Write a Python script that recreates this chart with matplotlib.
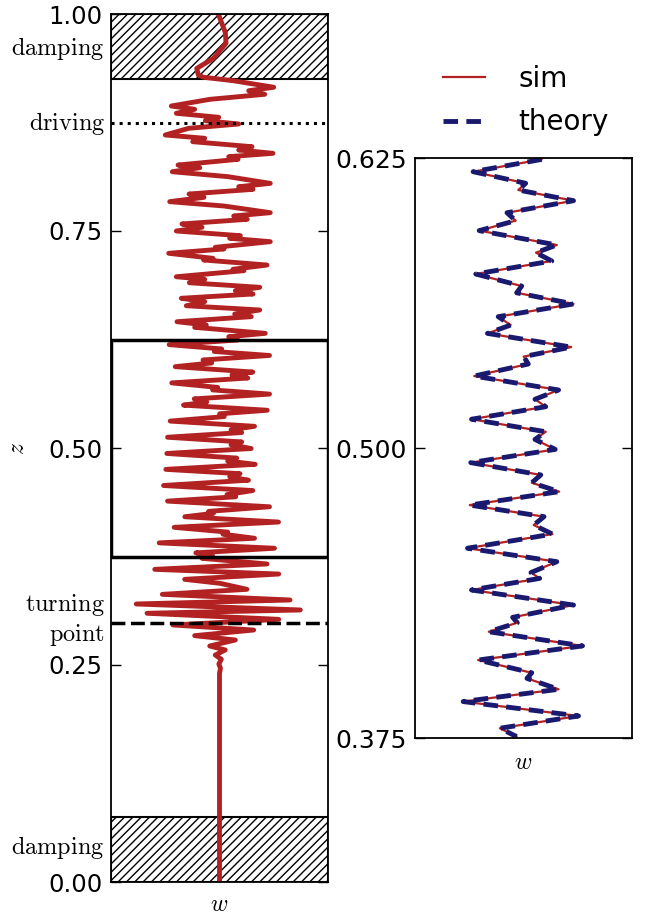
import matplotlib
matplotlib.use("Agg")
import matplotlib.pyplot as plt
from matplotlib.patches import Rectangle
from matplotlib.lines import Line2D

# profile of w(z) (extrema of the wave), top to bottom
z_damp_top = [1.000, 0.9785, 0.9662, 0.9489, 0.9373, 0.9297, 0.9271]
w_damp_top = [-0.011, 0.054, 0.060, -0.057, -0.210, -0.195, -0.149]

z_upper = [0.9232, 0.9156, 0.9116, 0.9075, 0.9017, 0.8940, 0.8902, 0.8856, 0.8810, 0.8771,
           0.8733, 0.8683, 0.8606, 0.8568, 0.8529, 0.8471, 0.8433, 0.8395, 0.8356, 0.8326,
           0.8260, 0.8229, 0.8183, 0.8126, 0.8049, 0.8010, 0.7980, 0.7926, 0.7888, 0.7838,
           0.7788, 0.7711, 0.7673, 0.7635, 0.7581, 0.7543, 0.7500, 0.7446, 0.7416, 0.7377,
           0.7312, 0.7293, 0.7243, 0.7185, 0.7166, 0.7108, 0.7059, 0.7043, 0.6973, 0.6943,
           0.6904, 0.6851, 0.6812, 0.6774, 0.6725, 0.6686, 0.6639, 0.6590, 0.6544, 0.6513,
           0.6455, 0.6417, 0.6390, 0.6321, 0.6282]
w_upper = [0.124, 0.500, 0.269, 0.417, -0.088, -0.444, -0.229, -0.398, -0.007, -0.131,
           0.177, -0.284, -0.500, -0.136, -0.247, 0.300, 0.177, 0.493, 0.085, 0.171,
           -0.382, -0.182, -0.435, 0.078, 0.468, 0.177, 0.309, -0.281, -0.143, -0.459,
           0.041, 0.468, 0.131, 0.256, -0.346, -0.161, -0.398, 0.192, 0.094, 0.468,
           -0.039, 0.041, -0.468, -0.060, -0.146, 0.438, 0.124, 0.226, -0.398, -0.136,
           -0.278, 0.371, 0.146, 0.309, -0.352, -0.136, -0.306, 0.371, 0.140, 0.293,
           -0.392, -0.122, -0.229, 0.422, 0.085]

# zoomed window 0.375 < z < 0.625 (sim and theory overlap here)
z_window = [0.6244, 0.6191, 0.6141, 0.6112, 0.6066, 0.6014, 0.5980, 0.5937, 0.5875, 0.5842,
            0.5806, 0.5750, 0.5698, 0.5669, 0.5621, 0.5566, 0.5530, 0.5494, 0.5435, 0.5394,
            0.5362, 0.5310, 0.5250, 0.5210, 0.5178, 0.5124, 0.5070, 0.5037, 0.4994, 0.4937,
            0.4884, 0.4850, 0.4812, 0.4754, 0.4704, 0.4668, 0.4629, 0.4568, 0.4510, 0.4463,
            0.4438, 0.4388, 0.4323, 0.4270, 0.4247, 0.4208, 0.4147, 0.4086, 0.4031, 0.4007,
            0.3960, 0.3907, 0.3845, 0.3792, 0.3756]
w_window = [0.168, -0.464, 0.020, -0.048, 0.461, -0.152, -0.072, -0.408, 0.307, 0.115,
            0.261, -0.440, -0.017, -0.063, 0.461, -0.233, -0.118, -0.332, 0.440, 0.002,
            0.044, -0.454, 0.323, 0.106, 0.205, -0.479, 0.205, 0.106, 0.292, -0.486,
            0.159, 0.076, 0.329, -0.495, 0.189, 0.094, 0.267, -0.516, 0.307, 0.069,
            0.149, -0.479, 0.461, -0.100, -0.057, -0.320, 0.544, -0.418, 0.076, 0.032,
            0.323, -0.556, 0.507, -0.218, -0.063]

z_lower = [0.3729, 0.3664, 0.3602, 0.3548, 0.3487, 0.3441, 0.3372, 0.3314, 0.3249, 0.3203,
           0.3134, 0.3096, 0.3026, 0.2961, 0.2903, 0.2838, 0.2788, 0.2719, 0.2673, 0.2615,
           0.2566, 0.2512, 0.2462, 0.2404, 0.0]
w_lower = [-0.161, 0.438, -0.597, 0.546, -0.321, 0.005, 0.253, -0.527, 0.650, -0.767,
           0.745, -0.668, 0.546, -0.429, 0.315, -0.229, 0.146, -0.090, 0.053, -0.039,
           0.017, -0.006, 0.009, 0.0, 0.0]

z_sim = z_damp_top + z_upper + z_window + z_lower
w_sim = w_damp_top + w_upper + w_window + w_lower

damp_top = (0.925, 1.0)
damp_bottom = (0.0, 0.075)
z_driving = 0.8744
z_turning = 0.2984
window = (0.375, 0.625)

plt.rcParams["mathtext.fontset"] = "cm"
sim_color = "#b22222"
theory_color = "#191970"

fig = plt.figure(figsize=(6.47, 9.16), dpi=100)
ax = fig.add_axes([111 / 647, 34 / 916, 217 / 647, 868 / 916])
ax2 = fig.add_axes([415 / 647, 178 / 916, 217 / 647, 580 / 916])

# --- left: full profile
for lo, hi in (damp_top, damp_bottom):
    ax.axhspan(lo, hi, facecolor="none", edgecolor="k", hatch="////", lw=1.5, zorder=1)
ax.plot(w_sim, z_sim, color=sim_color, lw=3.5, solid_joinstyle="round", zorder=2)
ax.axhline(z_driving, color="k", ls=":", lw=2.2, zorder=3)
ax.axhline(z_turning, color="k", lw=2.5, dashes=(4, 1.6), zorder=3)
box = Rectangle((0, window[0]), 1, window[1] - window[0], fill=False, lw=2.5,
                edgecolor="k", transform=ax.get_yaxis_transform(), zorder=4)
ax.add_patch(box)

ax.set_xlim(-1, 1)
ax.set_ylim(0, 1)
ax.set_xticks([])
ax.set_yticks([0, 0.25, 0.5, 0.75, 1.0])
ax.set_yticklabels(["0.00", "0.25", "0.50", "0.75", "1.00"])
ax.tick_params(axis="y", direction="in", length=7, width=1, right=True,
               labelsize=17.5, pad=6)
ax.set_ylabel(r"$z$", fontsize=17)
ax.yaxis.set_label_coords(-0.38, 0.5)
ax.set_xlabel(r"$w$", fontsize=17)
ax.xaxis.set_label_coords(0.5, -0.011)

tr = ax.get_yaxis_transform()
lab = dict(transform=tr, ha="right", va="center", fontsize=17.5)
ax.text(-0.03, 0.9597, r"$\mathrm{damping}$", **lab)
ax.text(-0.025, z_driving, r"$\mathrm{driving}$", **lab)
ax.text(-0.027, 0.3018, r"$\mathrm{turning}$" + "\n" + r"$\mathrm{point}$",
        multialignment="right", **lab)
ax.text(-0.03, 0.0403, r"$\mathrm{damping}$", **lab)

# --- right: zoomed window with theory
ax2.plot(w_sim, z_sim, color=sim_color, lw=1.6, label="sim")
ax2.plot(w_window, z_window, color=theory_color, lw=3.5, dashes=(3, 1.7), label="theory")
ax2.set_xlim(-1, 1)
ax2.set_ylim(*window)
ax2.set_xticks([])
ax2.set_yticks([0.375, 0.5, 0.625])
ax2.set_yticklabels(["0.375", "0.500", "0.625"])
ax2.tick_params(axis="y", direction="in", length=7, width=1, right=True,
                labelsize=18, pad=6)
ax2.set_xlabel(r"$w$", fontsize=17)
ax2.xaxis.set_label_coords(0.5, -0.02)

for a in (ax, ax2):
    for s in a.spines.values():
        s.set_linewidth(1.3)

handles = [Line2D([], [], color=sim_color, lw=1.6),
           Line2D([], [], color=theory_color, lw=3.5, dashes=(3, 1.7))]
fig.legend(handles, ["sim", "theory"], loc="upper left",
           bbox_to_anchor=(443 / 647, 1 - 65 / 916), frameon=False, fontsize=20,
           handlelength=1.5, handletextpad=1.2, labelspacing=0.55,
           borderpad=0, borderaxespad=0)

fig.savefig("out.png", dpi=100)
